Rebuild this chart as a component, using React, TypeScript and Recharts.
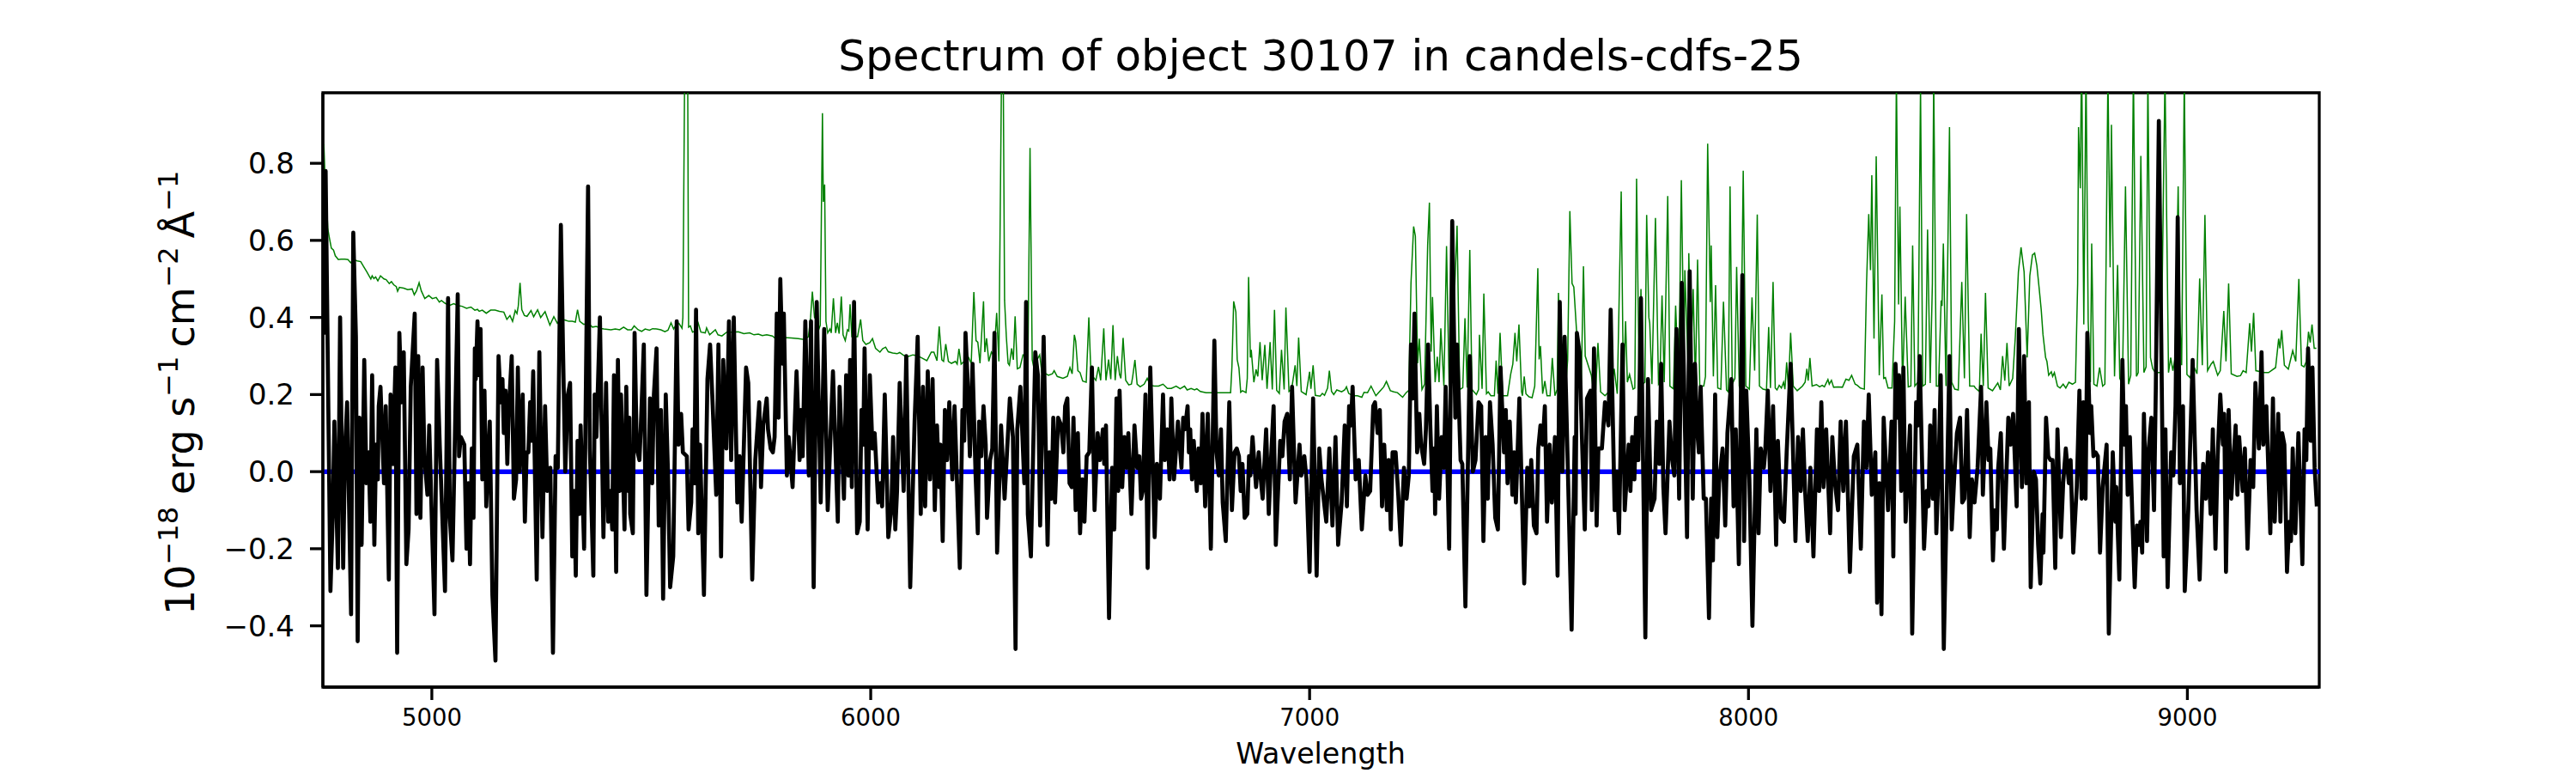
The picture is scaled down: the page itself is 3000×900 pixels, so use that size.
import React from 'react';
import { LineChart, Line, XAxis, YAxis, ReferenceArea } from 'recharts';

type Pt = [number, number];

const TITLE = 'Spectrum of object 30107 in candels-cdfs-25';
const X_LABEL = 'Wavelength';
const X_TICKS = [5000, 6000, 7000, 8000, 9000];
const Y_TICKS = [-0.4, -0.2, 0, 0.2, 0.4, 0.6, 0.8];
const X_DOMAIN: [number, number] = [4751.7, 9300.5];
const Y_DOMAIN: [number, number] = [-0.559, 0.983];

const flux1: Pt[] = [[4753,.78],[4755,.36],[4758,.78],[4769,-.31],[4774,-.12],[4778,.13],[4786,-.25],[4791,.40],[4798,-.25],[4802,.05],[4807,.18],[4816,-.37],[4821,.62],[4827,.35],[4831,-.44],[4835,.14],[4840,-.19],[4846,.29],[4851,-.03],[4856,.05],[4860,-.13],[4864,.25],[4869,-.19],[4873,.07],[4877,-.02],[4879,.17],[4883,.22],[4891,-.03],[4895,.17],[4902,-.28],[4906,.20],[4911,.02],[4917,.27],[4921,-.47],[4926,.36],[4931,.18],[4936,.31],[4942,-.24],[4947,-.15],[4952,.22],[4961,.41],[4965,-.11],[4969,.30],[4974,-.12],[4979,.27],[4983,.04],[4990,-.06],[4994,.12],[5006,-.37],[5012,.29],[5018,.07],[5030,-.31],[5037,.45],[5041,-.12],[5047,-.23],[5059,.46],[5062,.04],[5066,.09],[5074,.07],[5079,-.20],[5083,-.03],[5087,-.24],[5091,.06],[5095,-.12],[5098,.32],[5100,.24],[5104,.39],[5108,.25],[5111,.37],[5115,-.02],[5120,.21],[5124,-.09],[5132,.13],[5138,-.32],[5145,-.49],[5152,.30],[5157,.18],[5161,.24],[5164,.10],[5168,.21],[5172,.02],[5175,.15],[5182,.30],[5187,-.07],[5192,-.02],[5196,.27],[5200,0],[5207,.20],[5212,-.13],[5216,.05],[5220,.05],[5224,.18],[5227,.08],[5231,.26],[5239,-.28],[5245,.31],[5252,-.17],[5258,.17],[5263,-.05],[5270,.01],[5276,-.47],[5282,.04],[5287,.01],[5294,.64],[5299,.31],[5304,0],[5310,.20],[5315,.23],[5320,-.22],[5324,-.05],[5328,-.27],[5332,.08],[5336,-.11],[5339,.12],[5347,-.20],[5356,.74],[5360,.06],[5368,-.27],[5371,.20],[5375,.09],[5383,.40],[5391,-.17]];
const flux2: Pt[] = [[5397,.23],[5402,-.13],[5407,-.05],[5411,-.15],[5415,.25],[5420,-.26],[5424,.29],[5428,-.05],[5431,.20],[5439,-.15],[5443,.22],[5447,-.05],[5450,.14],[5452,-.11],[5458,-.16],[5462,.36],[5467,.06],[5473,.03],[5476,.11],[5483,.33],[5489,-.32],[5497,.19],[5502,-.03],[5506,.20],[5512,.32],[5517,-.14],[5522,.16],[5527,-.33],[5533,.20],[5538,0],[5543,-.30],[5550,-.22],[5558,.39],[5562,.07],[5568,.15],[5572,.05],[5581,.04],[5585,-.15],[5591,-.08],[5594,.11],[5598,-.03],[5602,.42],[5607,-.16],[5611,.07],[5620,-.32],[5628,.24],[5634,.33],[5640,.17],[5648,-.06],[5653,.33],[5659,-.22],[5664,.29],[5671,.06],[5677,.39],[5682,.03],[5688,.40],[5696,-.08],[5701,.04],[5706,-.13],[5716,.27],[5721,.23],[5730,-.28],[5737,.03],[5746,.18],[5750,-.04],[5755,.12],[5763,.19],[5766,.11],[5772,.06],[5777,.05],[5781,.09],[5786,.41],[5790,.14],[5794,.50],[5799,.28],[5802,.41],[5809,-.01],[5813,.09],[5822,-.04],[5831,.26],[5838,.03],[5841,.16],[5845,.04],[5851,.39],[5859,-.01],[5864,.39],[5870,-.30],[5877,.44],[5886,-.08],[5894,.37],[5902,-.10],[5914,.26],[5925,-.13],[5929,.22],[5939,-.07],[5944,.25],[5949,-.01],[5953,.29],[5957,-.04],[5962,.44],[5969,-.16],[5975,-.13],[5979,.16],[5983,.07],[5986,.32],[5993,-.15],[5998,.25],[6004,.06],[6009,.10],[6017,-.08],[6022,-.03],[6026,-.09],[6032,.20],[6040,-.17],[6047,-.10]];
const flux3: Pt[] = [[6051,.09],[6056,-.15],[6060,-.05],[6066,.23],[6075,-.05],[6081,.30],[6090,-.30],[6100,.13],[6107,.35],[6114,-.11],[6119,.22],[6124,-.09],[6130,.26],[6135,-.02],[6141,.24],[6146,-.10],[6151,.12],[6156,-.04],[6159,.07],[6164,-.18],[6169,.16],[6174,.03],[6179,.18],[6186,-.02],[6191,.17],[6203,-.25],[6209,.16],[6213,.08],[6216,.36],[6221,.23],[6226,.04],[6232,.28],[6239,-.01],[6244,-.16],[6247,.13],[6252,.04],[6257,.17],[6262,.07],[6265,-.12],[6272,.03],[6277,.06],[6282,.36],[6288,-.21],[6297,.12],[6305,-.07],[6317,.19],[6324,.09],[6330,-.46],[6334,.11],[6341,.22],[6350,-.03],[6354,.44],[6358,-.11],[6365,-.22],[6375,.31],[6381,.25],[6386,-.14],[6394,.35],[6403,-.19],[6407,.05],[6412,-.07],[6416,.14],[6420,-.08],[6427,.14],[6434,.12],[6439,.05],[6443,.17],[6448,.19],[6453,-.03],[6458,-.04],[6462,.14],[6467,-.10],[6472,.10],[6477,-.16],[6482,-.02],[6487,-.13],[6492,.04],[6498,.05],[6504,.27],[6510,-.10],[6517,.10],[6522,.03],[6529,.11],[6532,.02],[6536,.12],[6543,-.38],[6550,.01],[6555,-.15],[6560,.19],[6564,-.05],[6567,.21],[6573,-.04],[6578,.09],[6583,.01],[6587,.10],[6594,-.11],[6601,.12],[6607,.01],[6612,.04],[6616,-.07],[6620,-.05],[6626,.20],[6631,-.25],[6637,.27],[6647,-.17],[6652,.02],[6659,-.07],[6666,.20],[6670,.03],[6676,.11],[6681,-.02],[6685,.19],[6691,-.02],[6700,.13]];
const flux4: Pt[] = [[6708,.01],[6712,.14],[6716,.11],[6722,.17],[6725,.05],[6728,.11],[6732,-.02],[6736,.08],[6743,-.05],[6747,.06],[6752,-.03],[6756,.15],[6762,-.09],[6768,.15],[6775,-.20],[6783,.34],[6788,.05],[6793,-.01],[6798,.11],[6802,-.08],[6809,-.18],[6817,.18],[6823,-.10],[6829,.05],[6834,.06],[6839,.04],[6843,-.05],[6847,.02],[6852,-.12],[6858,-.11],[6862,.04],[6865,-.01],[6870,.09],[6878,-.04],[6884,.05],[6888,-.01],[6893,-.07],[6901,.11],[6907,-.11],[6912,.03],[6918,.17],[6923,-.19],[6930,0],[6933,.08],[6938,.04],[6943,.13],[6949,.15],[6955,-.02],[6960,.22],[6968,-.08],[6977,.07],[6981,-.01],[6988,.04],[6993,-.02],[7000,-.26],[7008,.19],[7016,-.27],[7022,.06],[7027,-.02],[7038,-.13],[7045,.06],[7052,-.14],[7059,.09],[7065,-.19],[7073,-.08],[7080,.12],[7085,-.09],[7090,.17],[7094,.12],[7098,.22],[7105,-.02],[7112,.03],[7119,-.15],[7127,-.01],[7132,-.06],[7138,-.05],[7145,.17],[7149,.18],[7155,.10],[7160,.16],[7165,-.09],[7170,.07],[7176,-.10],[7180,.03],[7185,-.15],[7189,.05],[7196,.05],[7202,-.06],[7208,-.19],[7215,.01],[7221,-.07],[7226,-.01],[7231,.33],[7235,.19],[7239,.41],[7245,.05],[7250,.15],[7254,.07],[7261,.02],[7265,.11],[7270,.33],[7275,.12],[7280,-.05],[7284,.06],[7286,-.11],[7290,.17],[7295,-.07],[7301,.09],[7306,.01],[7310,.22],[7318,-.20],[7325,.65],[7332,.14],[7336,.33],[7344,.03],[7348,.02],[7355,-.35]];
const flux5: Pt[] = [[7365,.30],[7372,0],[7378,.03],[7385,.18],[7391,.17],[7396,-.18],[7401,.09],[7406,-.07],[7411,.18],[7417,.07],[7423,-.12],[7429,-.15],[7435,.27],[7443,.05],[7447,.16],[7451,-.03],[7456,.13],[7462,-.06],[7466,.05],[7470,-.08],[7478,.19],[7489,-.29],[7496,.01],[7501,-.09],[7505,.03],[7511,-.14],[7517,-.16],[7521,.06],[7526,.12],[7531,.07],[7536,.17],[7541,-.13],[7547,.07],[7552,-.08],[7559,.09],[7565,-.27],[7570,.44],[7576,0],[7581,.35],[7589,-.02],[7597,-.41],[7604,.09],[7606,-.11],[7609,.36],[7615,.31],[7621,.07],[7627,-.15],[7632,.19],[7640,.21],[7643,-.10],[7648,.32],[7654,-.14],[7658,.06],[7666,.06],[7673,.18],[7681,.12],[7686,.42],[7695,-.10],[7700,0],[7705,-.16],[7713,.33],[7718,-.10],[7727,.07],[7731,-.05],[7735,.09],[7740,-.02],[7744,.14],[7749,.03],[7755,.45],[7765,-.43],[7771,.24],[7778,-.10],[7786,-.07],[7791,.13],[7797,.02],[7801,.28],[7806,-.04],[7811,-.16],[7820,.13],[7825,.04],[7831,-.01],[7836,.37],[7842,-.07],[7848,.49],[7853,.25],[7860,-.17],[7866,.52],[7873,-.07],[7878,.28],[7883,.11],[7887,.05],[7891,.22],[7898,-.07],[7903,-.07],[7910,-.38],[7915,-.07],[7919,-.23],[7924,.20],[7929,-.17],[7933,-.03],[7941,.06],[7947,-.14],[7952,.10],[7961,.24],[7966,-.09],[7971,.11],[7978,-.24],[7986,.51],[7990,-.18],[7995,.21],[8002,-.02],[8009,-.40]];
const flux6: Pt[] = [[8018,.11],[8023,-.16],[8028,.06],[8035,.01],[8038,.05],[8044,.21],[8050,-.05],[8056,.17],[8063,-.19],[8067,.08],[8074,-.12],[8081,-.13],[8087,.05],[8096,.28],[8107,-.18],[8113,.09],[8119,-.05],[8124,.11],[8129,-.05],[8135,-.18],[8141,.01],[8148,-.22],[8156,.11],[8161,-.05],[8166,.18],[8171,-.04],[8177,.11],[8186,-.16],[8191,.09],[8197,-.03],[8204,-.10],[8210,.13],[8216,-.05],[8222,.13],[8227,-.08],[8231,-.26],[8240,.04],[8248,.07],[8256,-.20],[8263,.13],[8269,.01],[8274,.20],[8281,-.06],[8289,.05],[8293,-.34],[8298,-.03],[8303,-.37],[8308,.14],[8318,-.10],[8326,.13],[8330,-.22],[8335,.28],[8340,.14],[8343,.25],[8348,-.05],[8353,.27],[8358,-.13],[8368,.12],[8373,-.42],[8382,.18],[8386,.12],[8390,.30],[8400,-.20],[8406,-.05],[8410,-.09],[8414,.12],[8420,-.07],[8424,.16],[8428,-.16],[8433,0],[8438,.25],[8445,-.46],[8458,.30],[8463,-.15],[8469,-.01],[8475,.10],[8482,.14],[8487,-.08],[8492,-.07],[8498,.16],[8504,-.17],[8509,-.02],[8515,-.08],[8522,.01],[8530,.22],[8534,-.06],[8542,.18],[8547,.03],[8551,.06],[8557,-.23],[8561,-.10],[8566,-.15],[8569,.01],[8575,.10],[8582,-.20],[8592,.14],[8597,.07],[8603,.15],[8611,-.09],[8616,.37],[8623,-.04],[8628,.30],[8633,-.03],[8639,.18],[8643,-.30],[8650,0],[8655,-.02],[8660,-.19],[8665,-.29]];
const flux7: Pt[] = [[8670,-.11],[8672,-.21],[8678,.14],[8683,.04],[8688,.03],[8693,.03],[8699,-.25],[8704,.11],[8712,-.17],[8717,-.03],[8723,.06],[8730,-.03],[8734,.03],[8740,-.21],[8748,-.04],[8754,.21],[8759,-.07],[8763,.18],[8768,-.07],[8772,.36],[8778,.10],[8781,.17],[8786,.04],[8791,.05],[8796,.04],[8801,-.21],[8807,-.04],[8816,.07],[8821,-.42],[8830,.05],[8836,-.13],[8838,-.04],[8845,-.28],[8852,.29],[8856,.07],[8860,.17],[8864,-.06],[8869,.09],[8875,-.13],[8880,-.30],[8885,-.14],[8890,-.19],[8893,-.13],[8897,-.21],[8901,.15],[8908,-.18],[8912,.06],[8918,.14],[8924,-.10],[8928,.21],[8935,.91],[8946,-.22],[8950,.11],[8955,-.30],[8963,.05],[8968,-.01],[8973,.17],[8978,.66],[8983,-.03],[8990,.17],[8994,-.31],[9002,-.10],[9012,.29],[9021,-.10],[9028,-.28],[9036,.02],[9042,-.07],[9047,.05],[9053,-.11],[9058,.11],[9064,-.20],[9069,.04],[9075,.20],[9081,.07],[9084,.15],[9088,-.26],[9094,.16],[9100,-.07],[9105,.03],[9110,.12],[9114,-.06],[9118,.09],[9126,-.05],[9131,.06],[9137,-.20],[9144,.03],[9150,-.04],[9155,.23],[9163,.06],[9169,.31],[9173,.07],[9180,.17],[9189,-.16],[9195,.19],[9199,-.13],[9207,.15],[9212,-.13],[9216,.10],[9221,.07],[9227,-.26],[9232,-.13],[9236,-.18],[9240,.06],[9246,-.16],[9253,.10],[9262,-.24],[9267,.11],[9271,.03],[9275,.32],[9281,.08],[9285,.27],[9290,.01],[9295,-.09]];

// green curve, read off the same way; peaks above the frame are guessed
const green1: Pt[] = [[4754,.85],[4757,.75],[4760,.70],[4763,.63],[4766,.61],[4771,.58],[4776,.575],[4780,.56],[4787,.55],[4793,.551],[4802,.551],[4809,.55],[4815,.542],[4821,.55],[4830,.547],[4838,.545],[4844,.533],[4852,.518],[4861,.50],[4864,.508],[4868,.501],[4872,.505],[4877,.495],[4883,.508],[4891,.50],[4896,.498],[4903,.488],[4908,.493],[4913,.485],[4919,.48],[4922,.468],[4926,.478],[4936,.476],[4945,.472],[4955,.474],[4960,.459],[4965,.469],[4971,.49],[4976,.469],[4984,.449],[4993,.457],[5001,.449],[5010,.452],[5017,.44],[5022,.444],[5030,.437],[5040,.431],[5050,.436],[5059,.431],[5069,.429],[5079,.424],[5089,.427],[5098,.419],[5104,.421],[5108,.416],[5115,.419],[5124,.411],[5134,.419],[5144,.419],[5154,.416],[5164,.414],[5171,.395],[5178,.405],[5184,.39],[5190,.418],[5194,.41],[5197,.43],[5201,.49],[5205,.42],[5211,.405],[5217,.403],[5226,.418],[5232,.402],[5241,.42],[5248,.40],[5258,.415],[5269,.38],[5278,.402],[5286,.385],[5294,.395],[5304,.393],[5312,.39],[5320,.39],[5327,.388],[5332,.42],[5337,.39],[5346,.382],[5356,.385],[5366,.375],[5375,.377],[5382,.372],[5392,.37]];
const green2: Pt[] = [[5408,.368],[5418,.37],[5428,.368],[5437,.375],[5446,.368],[5455,.368],[5461,.378],[5470,.368],[5478,.364],[5486,.37],[5496,.367],[5503,.371],[5512,.37],[5522,.368],[5531,.363],[5538,.367],[5545,.386],[5551,.37],[5557,.382],[5563,.385],[5570,.372],[5572,.40],[5576,1.03],[5579,1.08],[5583,1.03],[5585,.375],[5589,.378],[5594,.362],[5600,.365],[5607,.385],[5613,.362],[5623,.36],[5626,.373],[5633,.355],[5646,.368],[5652,.355],[5661,.352],[5672,.362],[5685,.362],[5698,.363],[5711,.358],[5724,.36],[5734,.355],[5744,.357],[5753,.353],[5763,.355],[5776,.352],[5789,.34],[5802,.348],[5819,.347],[5835,.345],[5848,.343],[5858,.35],[5863,.40],[5867,.467],[5872,.40],[5876,.395],[5882,.37],[5885,.38],[5890,.93],[5892,.70],[5895,.745],[5898,.39],[5902,.36],[5907,.37],[5910,.36],[5915,.45],[5920,.36],[5924,.386],[5928,.358],[5933,.454],[5937,.355],[5942,.34],[5947,.368],[5950,.365],[5953,.434],[5957,.35],[5965,.35],[5970,.35],[5977,.395],[5982,.34],[5989,.33],[5998,.335],[6004,.345],[6011,.32],[6021,.31],[6027,.319],[6034,.323],[6040,.311],[6050,.308]];
const green3: Pt[] = [[6060,.306],[6066,.309],[6076,.301],[6086,.299],[6096,.303],[6105,.301],[6115,.296],[6128,.288],[6138,.31],[6144,.31],[6151,.288],[6156,.377],[6162,.29],[6166,.286],[6171,.331],[6177,.286],[6184,.281],[6193,.286],[6197,.279],[6201,.319],[6206,.279],[6213,.286],[6221,.301],[6229,.281],[6235,.466],[6240,.34],[6244,.336],[6249,.281],[6257,.442],[6260,.31],[6264,.346],[6269,.286],[6275,.31],[6281,.301],[6287,.412],[6292,.286],[6298,1.03],[6302,1.03],[6305,.444],[6309,.35],[6313,.281],[6316,.276],[6321,.32],[6325,.29],[6329,.403],[6334,.267],[6340,.27],[6347,.303],[6353,.301],[6358,.262],[6363,.84],[6368,.29],[6373,.262],[6379,.29],[6385,.303],[6390,.257],[6399,.254],[6405,.25],[6414,.254],[6418,.262],[6425,.247],[6438,.242],[6448,.247],[6454,.27],[6459,.254],[6464,.355],[6467,.339],[6472,.262],[6477,.257],[6483,.235],[6491,.232],[6497,.40],[6502,.247],[6508,.244],[6513,.237],[6519,.272],[6524,.237],[6531,.372],[6536,.237],[6542,.291],[6547,.24],[6552,.38],[6557,.237],[6562,.30],[6567,.252],[6570,.242],[6575,.347],[6581,.237],[6588,.225],[6594,.227],[6597,.247],[6602,.29],[6607,.227],[6614,.22],[6623,.227],[6630,.242],[6637,.224],[6646,.222],[6656,.222],[6666,.227],[6676,.216],[6685,.216],[6696,.222]];
const green4: Pt[] = [[6705,.215],[6715,.222],[6721,.212],[6730,.216],[6738,.212],[6743,.215],[6751,.208],[6764,.205],[6777,.205],[6790,.205],[6803,.205],[6820,.205],[6823,.272],[6827,.442],[6832,.414],[6835,.291],[6839,.269],[6843,.206],[6847,.21],[6855,.205],[6858,.242],[6861,.505],[6865,.296],[6867,.316],[6873,.232],[6878,.265],[6882,.247],[6887,.336],[6892,.237],[6898,.329],[6903,.215],[6910,.336],[6915,.213],[6920,.42],[6925,.211],[6931,.203],[6936,.316],[6942,.213],[6946,.426],[6953,.208],[6959,.213],[6967,.276],[6971,.222],[6975,.348],[6981,.208],[6992,.20],[7000,.259],[7003,.215],[7008,.276],[7013,.198],[7024,.196],[7029,.203],[7034,.198],[7041,.217],[7045,.262],[7050,.208],[7055,.20],[7062,.212],[7073,.207],[7080,.212],[7084,.22],[7089,.203],[7099,.197],[7109,.197],[7119,.193],[7124,.206],[7132,.205],[7140,.222],[7151,.197],[7161,.21],[7169,.22],[7175,.234],[7184,.21],[7192,.207],[7200,.205],[7212,.193],[7220,.205],[7226,.211],[7231,.489],[7237,.636],[7241,.611],[7246,.281],[7250,.345],[7256,.213],[7262,.227],[7269,.587],[7273,.698],[7277,.311],[7280,.453],[7286,.232],[7291,.298],[7295,.232],[7299,.372],[7306,.222],[7312,.585],[7318,.222],[7322,.217],[7331,.487],[7336,.638],[7342,.213],[7349,.218],[7354,.398],[7359,.218]];
const green5: Pt[] = [[7365,.575],[7370,.213],[7380,.20],[7385,.213],[7387,.355],[7393,.215],[7397,.462],[7403,.202],[7407,.207],[7413,.197],[7421,.197],[7425,.288],[7429,.202],[7434,.36],[7440,.197],[7451,.197],[7458,.252],[7463,.279],[7468,.36],[7472,.286],[7477,.382],[7483,.207],[7485,.197],[7489,.247],[7493,.202],[7500,.194],[7507,.192],[7513,.222],[7520,.528],[7523,.291],[7526,.326],[7531,.202],[7536,.235],[7541,.197],[7548,.197],[7553,.295],[7559,.197],[7564,.213],[7567,.464],[7572,.213],[7582,.197],[7588,.29],[7593,.676],[7598,.488],[7602,.479],[7608,.37],[7613,.30],[7619,.227],[7624,.533],[7628,.30],[7635,.275],[7642,.25],[7647,.207],[7652,.212],[7657,.334],[7663,.207],[7673,.197],[7686,.212],[7694,.267],[7701,.202],[7705,.43],[7710,.727],[7715,.218],[7720,.39],[7724,.232],[7729,.252],[7737,.214],[7741,.217],[7745,.76],[7751,.222],[7755,.474],[7759,.227],[7764,.232],[7768,.666],[7773,.40],[7775,.385],[7780,.227],[7788,.658],[7795,.227],[7798,.232],[7803,.457],[7808,.232],[7816,.715],[7821,.222],[7829,.215],[7834,.431],[7841,.222],[7847,.756],[7853,.29],[7855,.523],[7862,.29],[7864,.567],[7869,.29],[7874,.474],[7879,.222],[7884,.55],[7889,.222],[7898,.222],[7902,.247],[7907,.851],[7913,.44],[7915,.587],[7920,.247],[7925,.484],[7930,.217],[7937,.214],[7943,.441],[7950,.212],[7954,.207],[7958,.74],[7963,.227],[7969,.242],[7973,.531],[7979,.222],[7982,.212],[7988,.781],[7994,.222],[8002,.214],[8008,.452],[8014,.262]];
const green6: Pt[] = [[8020,.667],[8025,.222],[8033,.214],[8041,.212],[8046,.375],[8050,.217],[8056,.492],[8061,.217],[8065,.212],[8070,.224],[8075,.217],[8080,.232],[8083,.214],[8087,.284],[8091,.217],[8096,.36],[8102,.222],[8111,.21],[8123,.222],[8129,.232],[8133,.267],[8136,.236],[8140,.295],[8145,.222],[8155,.226],[8162,.22],[8168,.224],[8173,.22],[8181,.239],[8184,.227],[8189,.237],[8194,.219],[8204,.22],[8214,.219],[8222,.24],[8229,.237],[8235,.25],[8243,.227],[8248,.224],[8255,.217],[8264,.214],[8269,.489],[8274,.668],[8278,.523],[8281,.769],[8286,.345],[8291,.818],[8298,.25],[8304,.46],[8308,.242],[8312,.244],[8318,.217],[8327,.217],[8333,.39],[8337,1.03],[8342,.434],[8345,.688],[8351,.222],[8357,.454],[8364,.22],[8370,.222],[8374,.587],[8379,.222],[8386,.232],[8392,1.0],[8397,.222],[8403,.227],[8408,.628],[8414,.23],[8419,.488],[8422,1.03],[8428,.222],[8433,.222],[8439,.444],[8441,.43],[8444,.592],[8450,.222],[8458,.894],[8463,.232],[8470,.214],[8478,.212],[8486,.492],[8492,.242],[8497,.668],[8504,.222],[8514,.222],[8517,.217],[8526,.208],[8530,.358],[8535,.222],[8540,.464],[8546,.217],[8556,.21],[8568,.23],[8574,.212],[8579,.30],[8584,.236],[8589,.334],[8594,.222],[8602,.242],[8608,.35],[8615,.518],[8621,.582],[8628,.518],[8635,.296],[8641,.508],[8647,.562],[8652,.567],[8657,.535],[8662,.479],[8667,.42]];
const green7: Pt[] = [[8671,.356],[8677,.296],[8680,.286],[8684,.25],[8690,.259],[8693,.247],[8697,.257],[8704,.222],[8710,.217],[8717,.227],[8723,.217],[8730,.232],[8738,.227],[8745,.232],[8750,.489],[8752,.894],[8756,.735],[8759,1.1],[8764,.382],[8769,1.05],[8774,.39],[8779,.232],[8782,.592],[8787,.227],[8794,.222],[8800,.27],[8807,.222],[8812,.227],[8815,.567],[8819,1.03],[8824,.53],[8827,.90],[8834,.247],[8841,.536],[8846,.242],[8852,.227],[8859,.74],[8866,.227],[8871,.25],[8877,1.04],[8884,.247],[8888,.257],[8894,.819],[8901,.257],[8906,.272],[8910,1.03],[8916,.296],[8921,.267],[8927,.257],[8940,.257],[8949,1.03],[8957,.257],[8962,.296],[8967,.262],[8972,.296],[8979,.74],[8983,.39],[8987,.276],[8993,1.03],[8999,.252],[9006,.244],[9015,.272],[9022,.254],[9028,.501],[9034,.276],[9040,.666],[9046,.262],[9054,.279],[9059,.286],[9069,.25],[9075,.262],[9083,.417],[9088,.286],[9094,.488],[9100,.254],[9113,.247],[9121,.249],[9127,.262],[9134,.257],[9142,.385],[9146,.311],[9151,.412],[9156,.262],[9175,.257],[9185,.257],[9201,.27],[9208,.345],[9211,.32],[9215,.367],[9221,.276],[9230,.266],[9240,.314],[9247,.286],[9254,.50],[9260,.276],[9266,.272],[9271,.286],[9276,.363],[9280,.335],[9284,.382],[9289,.32],[9294,.32]];

const zeroLine: Pt[] = [[4751.7, 0], [9300.5, 0]];

const toRows = (parts: Pt[][]) => parts.flat().map(([wave, flux]) => ({ wave, flux }));
const blackRows = toRows([flux1, flux2, flux3, flux4, flux5, flux6, flux7]);
const greenRows = toRows([green1, green2, green3, green4, green5, green6, green7]);
const zeroRows = toRows([zeroLine]);

const fmtY = (n: number) => (n < 0 ? `\u2212${Math.abs(n).toFixed(1)}` : n.toFixed(1));

const FONT = '"DejaVu Sans", sans-serif';

export default function App() {
  return (
    <div style={{ position: 'absolute', left: 0, top: 0, width: 3000, height: 900, background: '#fff', fontFamily: FONT }}>
      <LineChart width={3000} height={900} margin={{ top: 108, right: 299, bottom: 0, left: 0 }}>
        <XAxis
          dataKey="wave"
          type="number"
          domain={X_DOMAIN}
          ticks={X_TICKS}
          allowDataOverflow
          height={100}
          tickSize={15}
          tickMargin={10}
          tick={{ fill: '#000', fontSize: 27.5, fontFamily: FONT }}
          tickLine={{ stroke: '#000', strokeWidth: 3.3 }}
          axisLine={{ stroke: '#000', strokeWidth: 3.3 }}
          interval={0}
        />
        <YAxis
          type="number"
          domain={Y_DOMAIN}
          ticks={Y_TICKS}
          allowDataOverflow
          width={376}
          tickSize={15}
          tickMargin={18}
          tickFormatter={fmtY}
          tick={{ fill: '#000', fontSize: 34, fontFamily: FONT }}
          tickLine={{ stroke: '#000', strokeWidth: 3.3 }}
          axisLine={{ stroke: '#000', strokeWidth: 3.3 }}
          interval={0}
        />
        <ReferenceArea x1={X_DOMAIN[0]} x2={X_DOMAIN[1]} y1={Y_DOMAIN[0]} y2={Y_DOMAIN[1]} fill="none" stroke="#000" strokeWidth={3.3} ifOverflow="visible" />
        <Line data={greenRows} dataKey="flux" stroke="#008000" strokeWidth={1.5} dot={false} isAnimationActive={false} />
        <Line data={zeroRows} dataKey="flux" stroke="#0000ff" strokeWidth={5.5} dot={false} isAnimationActive={false} />
        <Line data={blackRows} dataKey="flux" stroke="#000" strokeWidth={4.7} strokeLinejoin="round" dot={false} isAnimationActive={false} />
        <text x={1538} y={82} textAnchor="middle" fontSize={50} fontFamily={FONT} fill="#000">{TITLE}</text>
        <text x={1538} y={889} textAnchor="middle" fontSize={33.3} fontFamily={FONT} fill="#000">{X_LABEL}</text>
        <text transform="translate(226 716) rotate(-90)" fontSize={46} fontFamily={FONT} fill="#000">
          10
          <tspan dy={-19} fontSize={32}>{'\u221218'}</tspan>
          <tspan dy={19} dx={14}>erg s</tspan>
          <tspan dy={-19} fontSize={32}>{'\u22121'}</tspan>
          <tspan dy={19} dx={10}>cm</tspan>
          <tspan dy={-19} fontSize={32}>{'\u22122'}</tspan>
          <tspan dy={19} dx={10}>{'\u00C5'}</tspan>
          <tspan dy={-19} fontSize={32}>{'\u22121'}</tspan>
        </text>
      </LineChart>
    </div>
  );
}
